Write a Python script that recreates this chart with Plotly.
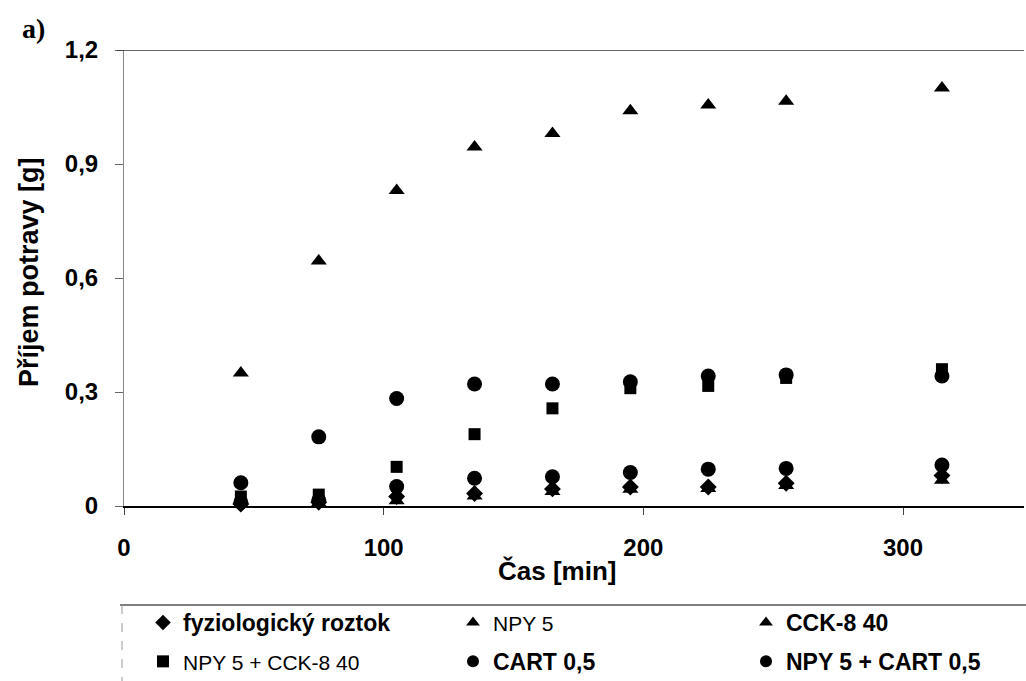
import plotly.graph_objects as go

# Time points (min) and cumulative food intake (g) for each treatment
cas = [45, 75, 105, 135, 165, 195, 225, 255, 315]

fyziologicky = [0.005, 0.010, 0.025, 0.033, 0.045, 0.050, 0.050, 0.060, 0.080]
npy5 = [0.350, 0.645, 0.830, 0.945, 0.980, 1.040, 1.055, 1.065, 1.100]
cck8 = [0.004, 0.008, 0.014, 0.026, 0.038, 0.044, 0.046, 0.054, 0.068]
npy5_cck8 = [0.025, 0.030, 0.103, 0.189, 0.257, 0.310, 0.316, 0.337, 0.360]
cart = [0.010, 0.015, 0.051, 0.073, 0.077, 0.088, 0.097, 0.099, 0.108]
npy5_cart = [0.061, 0.182, 0.283, 0.321, 0.321, 0.327, 0.342, 0.345, 0.342]

y_ticks = [0, 0.3, 0.6, 0.9, 1.2]
y_tick_text = ["0", "0,3", "0,6", "0,9", "1,2"]
x_ticks = [0, 100, 200, 300]

FONT = "Liberation Sans, Arial, sans-serif"


def light(txt):
    return f'<span style="font-size:21px">{txt}</span>'


series = [
    # name, values, symbol, size, legend id
    ("<b>fyziologický roztok</b>", fyziologicky, "diamond", 13, "legend"),
    (light("NPY 5 + CCK-8 40"), npy5_cck8, "square", 12, "legend"),
    (light("NPY 5"), npy5, "triangle-up", 14, "legend2"),
    ("<b>CART 0,5</b>", cart, "circle", 15, "legend2"),
    ("<b>CCK-8 40</b>", cck8, "triangle-up", 14, "legend3"),
    ("<b>NPY 5 + CART 0,5</b>", npy5_cart, "circle", 15, "legend3"),
]

fig = go.Figure()
for i, (name, vals, sym, size, leg) in enumerate(series):
    fig.add_trace(go.Scatter(
        x=cas, y=vals, mode="markers", name=name,
        marker=dict(symbol=sym, size=size, color="black"),
        cliponaxis=False, legend=leg, legendgroup=f"g{i}",
    ))

W, H = 1026, 681
L, T, PW, PH = 124, 50, 900, 456
leg_common = dict(
    xref="container", yref="container", xanchor="left", yanchor="top",
    orientation="v", bgcolor="rgba(0,0,0,0)", tracegroupgap=6,
    font=dict(family=FONT, size=23, color="black"),
    itemsizing="constant",
)

fig.update_layout(
    width=W, height=H,
    margin=dict(l=L, r=W - L - PW, t=T, b=H - T - PH, autoexpand=False),
    paper_bgcolor="white", plot_bgcolor="white",
    showlegend=True,
    legend=dict(x=143 / W, y=1 - 601 / H, **leg_common),
    legend2=dict(x=453 / W, y=1 - 601 / H, **leg_common),
    legend3=dict(x=746 / W, y=1 - 601 / H, **leg_common),
    xaxis=dict(
        range=[0, 346.6], tickvals=x_ticks, showgrid=False, zeroline=False,
        showline=True, linecolor="black", linewidth=1.5,
        ticks="outside", ticklen=7, tickcolor="#444", ticklabelstandoff=12,
        tickfont=dict(family=FONT, size=24, color="black", weight="bold"),
    ),
    yaxis=dict(
        range=[0, 1.2], tickvals=y_ticks, ticktext=y_tick_text, showgrid=False, zeroline=False,
        showline=True, linecolor="#888", linewidth=1,
        ticks="outside", ticklen=8, tickcolor="#666", ticklabelstandoff=12,
        tickfont=dict(family=FONT, size=24, color="black", weight="bold"),
    ),
    shapes=[
        # top border of the plot area
        dict(type="line", xref="paper", yref="y", x0=-7 / PW, x1=1, y0=1.2, y1=1.2,
             line=dict(color="#333", width=1.5)),
        # legend frame: top and left edges
        dict(type="line", xref="paper", yref="paper", x0=-4 / PW, x1=1.01,
             y0=-(605 - T - PH) / PH, y1=-(605 - T - PH) / PH,
             line=dict(color="#555", width=1.5)),
        dict(type="line", xref="paper", yref="paper", x0=-2 / PW, x1=-2 / PW,
             y0=-(605 - T - PH) / PH, y1=-(H - T - PH) / PH,
             line=dict(color="#999", width=1, dash="dash")),
    ],
    annotations=[
        # panel label
        dict(text="<b>a)</b>", xref="paper", yref="paper", x=(20 - L) / PW, y=1 + (T - 11) / PH,
             xanchor="left", yanchor="top", showarrow=False,
             font=dict(family="Liberation Serif, Times New Roman, serif", size=28, color="black")),
        # axis titles
        dict(text="Čas [min]", xref="paper", yref="paper", x=(557 - L) / PW,
             y=-(571 - T - PH) / PH, xanchor="center", yanchor="middle", showarrow=False,
             font=dict(family=FONT, size=26, color="black", weight="bold")),
        dict(text="Příjem potravy [g]", xref="paper", yref="paper", x=(29 - L) / PW,
             y=(T + PH - 272) / PH, xanchor="center", yanchor="middle", showarrow=False,
             textangle=-90,
             font=dict(family=FONT, size=27, color="black", weight="bold")),
    ],
)

fig.write_html("out.html")
